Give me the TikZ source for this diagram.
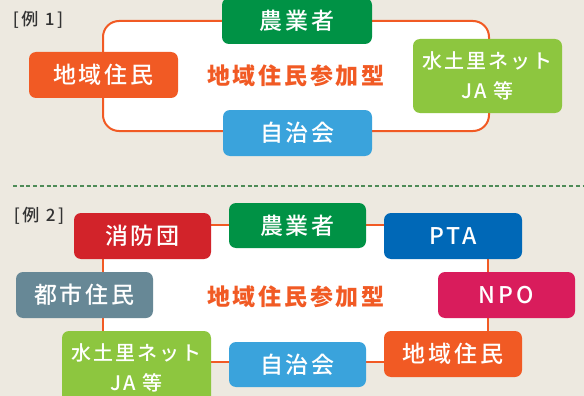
\documentclass[tikz,border=0pt]{standalone}
\usepackage{fontspec}
\setmainfont{Noto Sans CJK JP}[BoldFont={Noto Sans CJK JP Bold}]
\newfontfamily\boxfont{Noto Sans CJK JP Medium}[LetterSpace=13]
\newfontfamily\netfont{Noto Sans CJK JP Medium}[LetterSpace=10]
\newfontfamily\titlefont{Noto Sans CJK JP Black}[LetterSpace=12]
\newfontfamily\tagfont{Noto Sans CJK JP Medium}[LetterSpace=15]
\usepackage{tikz}
\usetikzlibrary{positioning}
\usepackage{xcolor}
\definecolor{bgbeige}{HTML}{EDE9E0}
\definecolor{jaorange}{HTML}{F15A24}
\definecolor{jagreen}{HTML}{009245}
\definecolor{jalime}{HTML}{8DC63F}
\definecolor{jasky}{HTML}{3AA3DC}
\definecolor{jared}{HTML}{D2232A}
\definecolor{janavy}{HTML}{0068B7}
\definecolor{jaslate}{HTML}{678896}
\definecolor{jamagenta}{HTML}{D91C5C}
\definecolor{dashgreen}{HTML}{4E8B57}
\tikzstyle{group} = [rounded corners=7pt, text=white, inner sep=0pt, align=center,
  font=\boxfont\fontsize{23}{30}\selectfont]
\tikzstyle{twoline} = [font=\netfont\fontsize{20}{30}\selectfont]
\tikzstyle{frame} = [draw=jaorange, line width=2pt, fill=white]
\tikzstyle{tag} = [font=\tagfont\fontsize{17}{18}\selectfont, text=black!80]
\tikzstyle{title} = [text=jaorange, font=\titlefont\fontsize{23}{24}\selectfont]

\begin{document}
\begin{tikzpicture}[x=1pt, y=-1pt]
\useasboundingbox (0,0) rectangle (584,396);
\clip (0,0) rectangle (584,396);
\fill[bgbeige] (0,0) rectangle (584,396);

% Example 1
\node[tag] (tagA) at (38,20) {[例 1]};
\draw[frame, rounded corners=16pt] (103,21) rectangle (489,131);
\node[title] (typeA) at (296,76) {地域住民参加型};
\node[group, fill=jagreen, minimum width=150pt, minimum height=46pt] (farmA) at (297,21) {農業者};
\node[group, fill=jaorange, minimum width=149pt, minimum height=46pt] (residA) at (103.5,75) {地域住民};
\node[group, twoline, fill=jalime, minimum width=149pt, minimum height=74pt] (netA) at (487.5,76) {水土里ネット\\JA 等};
\node[group, fill=jasky, minimum width=149pt, minimum height=46pt] (assocA) at (297.5,133) {自治会};

% Divider
\draw[dashgreen, line width=1.3pt, dash pattern=on 4pt off 2.7pt] (13,186) -- (584,186);

% Example 2
\node[tag] (tagB) at (39,216) {[例 2]};
\draw[frame] (103,225) rectangle (488,362);
\node[title] (typeB) at (296,297) {地域住民参加型};
\node[group, fill=jared, minimum width=137pt, minimum height=46pt] (fireB) at (142.5,236) {消防団};
\node[group, fill=jagreen, minimum width=137pt, minimum height=45pt] (farmB) at (297.5,225.5) {農業者};
\node[group, fill=janavy, minimum width=138pt, minimum height=46pt] (ptaB) at (453,236) {PTA};
\node[group, fill=jaslate, minimum width=137pt, minimum height=46pt] (cityB) at (84.5,295) {都市住民};
\node[group, fill=jamagenta, minimum width=137pt, minimum height=46pt] (npoB) at (506.5,295) {NPO};
\node[group, twoline, fill=jalime, minimum width=149pt, minimum height=74pt] (netB) at (136.5,368) {水土里ネット\\JA 等};
\node[group, fill=jasky, minimum width=137pt, minimum height=45pt] (assocB) at (297.5,364.5) {自治会};
\node[group, fill=jaorange, minimum width=138pt, minimum height=46pt] (residB) at (453,354) {地域住民};
\end{tikzpicture}
\end{document}
